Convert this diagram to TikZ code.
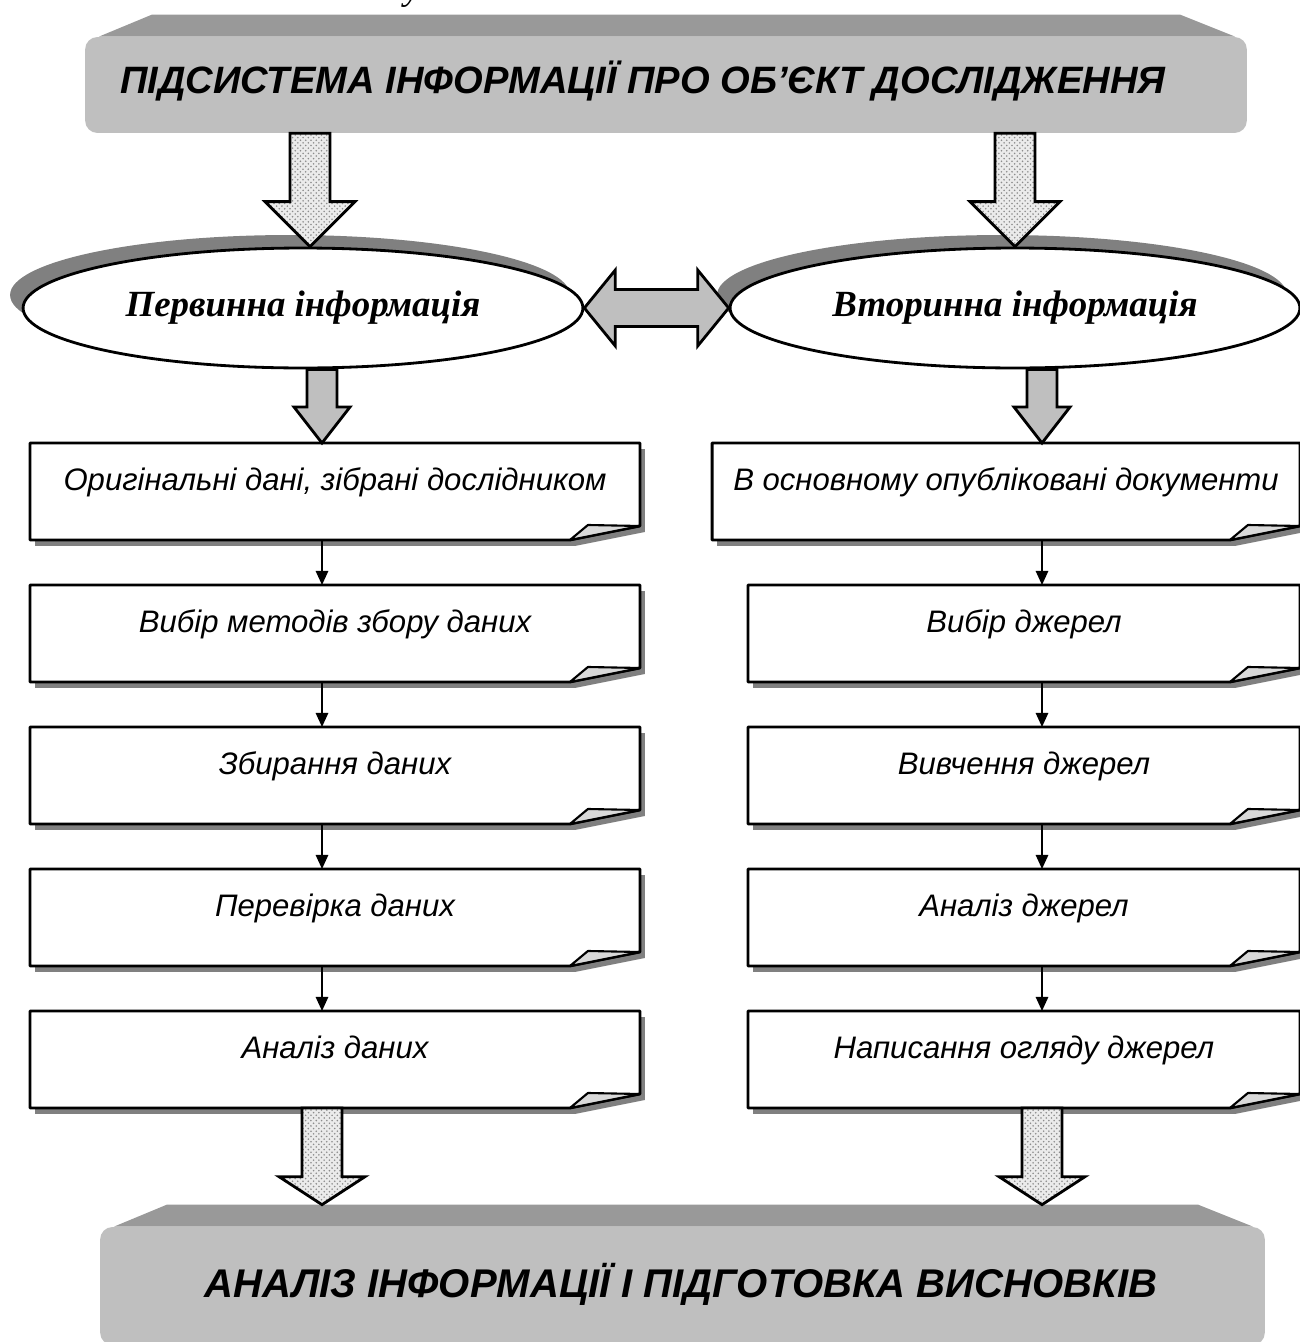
\documentclass[tikz,border=0pt]{standalone}
\usepackage{fontspec}
\setmainfont{Liberation Serif}
\setsansfont{Liberation Sans}
\usetikzlibrary{shapes.geometric,shadows,patterns,arrows.meta,calc}
\pgfdeclarelayer{back}
\pgfsetlayers{back,main}

\newcommand{\pxu}{0.569pt}
% wide arrow pointing down: style, from, to, half shaft, half head, head length
\newcommand{\blockdown}[6]{%
  \draw[#1] let \p1=(#2), \p2=(#3) in
    (\x1-#4*\pxu,\y1) -- (\x1+#4*\pxu,\y1) -- (\x1+#4*\pxu,\y2+#6*\pxu)
    -- (\x1+#5*\pxu,\y2+#6*\pxu) -- (\x2,\y2) -- (\x1-#5*\pxu,\y2+#6*\pxu)
    -- (\x1-#4*\pxu,\y2+#6*\pxu) -- cycle;}
% wide arrow with two heads: style, left tip, right tip, half shaft, half head, head length
\newcommand{\blockboth}[6]{%
  \draw[#1] let \p1=(#2), \p2=(#3) in
    (\x1,\y1) -- (\x1+#6*\pxu,\y1+#5*\pxu) -- (\x1+#6*\pxu,\y1+#4*\pxu)
    -- (\x2-#6*\pxu,\y1+#4*\pxu) -- (\x2-#6*\pxu,\y1+#5*\pxu) -- (\x2,\y1)
    -- (\x2-#6*\pxu,\y1-#5*\pxu) -- (\x2-#6*\pxu,\y1-#4*\pxu)
    -- (\x1+#6*\pxu,\y1-#4*\pxu) -- (\x1+#6*\pxu,\y1-#5*\pxu) -- cycle;}
% sheet of paper with a folded corner round node #1
\newcommand{\sheetoutline}[1]{%
  \begin{pgfonlayer}{back}
    \fill[black!50] ($(#1.north west)+(5,6)$) -- ($(#1.north east)+(5,6)$)
      -- ($(#1.south east)+(5,-8)$) -- ($(#1.south east)+(-65,6)$)
      -- ($(#1.south west)+(5,6)$) -- cycle;
    \fill[white] (#1.north west) -- (#1.north east) -- ($(#1.south east)+(0,-14)$)
      -- ($(#1.south east)+(-70,0)$) -- (#1.south west) -- cycle;
  \end{pgfonlayer}
  \draw[line width=1.6pt, line join=round] (#1.north west) -- (#1.north east)
    -- ($(#1.south east)+(0,-14)$) -- ($(#1.south east)+(-70,0)$)
    -- (#1.south west) -- cycle;
  \draw[line width=1.2pt, line join=round, fill=black!15] ($(#1.south east)+(-70,0)$)
    -- ($(#1.south east)+(-52,-15)$) -- ($(#1.south east)+(0,-14)$) -- cycle;}

\tikzset{
  banner/.style={fill=black!25, rounded corners=7pt, inner sep=0pt, minimum height=96*\pxu},
  bannertext/.style={inner sep=0pt, font=\sffamily\bfseries\itshape\fontsize{#1}{26}\selectfont},
  bannerlid/.style={fill=black!40},
  oval/.style={ellipse, draw, line width=1.6pt, fill=white, inner sep=0pt,
    minimum height=120*\pxu, font=\bfseries\itshape\fontsize{21}{25}\selectfont,
    drop shadow={shadow xshift=-7.4pt, shadow yshift=7.4pt, fill=black!50, opacity=1}},
  sheet/.style={minimum height=97*\pxu, inner sep=0pt, outer sep=0pt,
    text height=13pt, text depth=14pt, font=\sffamily\itshape\fontsize{17.7}{21}\selectfont},
  dotarrow/.style={draw, line width=1.6pt, line join=miter, preaction={fill=black!8},
    pattern=crosshatch dots, pattern color=black!45},
  greyarrow/.style={draw, line width=1.6pt, line join=miter, fill=black!25},
  flow/.style={-{Triangle[length=8pt,width=7pt]}, line width=1.1pt}
}

\begin{document}
\begin{tikzpicture}[x=0.02cm, y=-0.02cm]
  \useasboundingbox (0,0) rectangle (1300,1342);
  \clip (0,0) rectangle (1300,1342);

  % x positions of the arrows
  \coordinate (aTL) at (310,0);
  \coordinate (aTR) at (1015,0);
  \coordinate (colL) at (322,0);
  \coordinate (colR) at (1042,0);

  % Top banner
  \node[banner, minimum width=1162*\pxu] (top) at (666,85) {};
  \fill[bannerlid] ($(top.north west)+(67,-22)$) -- ($(top.north east)+(-67,-22)$)
    -- ($(top.north east)+(-12,0)$) -- ($(top.north west)+(14,0)$) -- cycle;
  \node[bannertext=21.7] (toptext) at (643,81) {ПІДСИСТЕМА ІНФОРМАЦІЇ ПРО ОБ’ЄКТ ДОСЛІДЖЕННЯ};
  \node[font=\itshape\fontsize{21}{25}\selectfont, anchor=base west, inner sep=0pt] (cut) at (404,-1) {у};

  % Primary and secondary information
  \node[oval, minimum width=560*\pxu] (ellL) at (303,308) {Первинна інформація};
  \node[oval, minimum width=570*\pxu] (ellR) at (1015,308) {Вторинна інформація};
  \blockdown{dotarrow}{top.south -| aTL}{ellL.north -| aTL}{20}{45}{45}
  \blockdown{dotarrow}{top.south -| aTR}{ellR.north -| aTR}{20}{45}{45}
  \blockboth{greyarrow}{ellL.east}{ellR.west}{18.5}{38}{31}

  % Left column
  \foreach \i/\txt in {1/{Оригінальні дані, зібрані дослідником}, 2/{Вибір методів збору даних},
      3/{Збирання даних}, 4/{Перевірка даних}, 5/{Аналіз даних}}
    \node[sheet, minimum width=610*\pxu] (l\i) at (335,349.5+142*\i) {\txt};

  % Right column
  \node[sheet, minimum width=588*\pxu] (r1) at (1006,491.5) {В основному опубліковані документи};
  \foreach \i/\txt in {2/{Вибір джерел}, 3/{Вивчення джерел}, 4/{Аналіз джерел},
      5/{Написання огляду джерел}}
    \node[sheet, minimum width=552*\pxu] (r\i) at (1024,349.5+142*\i) {\txt};

  \foreach \i in {1,...,5} {
    \sheetoutline{l\i}
    \sheetoutline{r\i}
  }

  \blockdown{greyarrow}{ellL.south -| colL}{l1.north -| colL}{15}{28}{36}
  \blockdown{greyarrow}{ellR.south -| colR}{r1.north -| colR}{15}{28}{36}
  \foreach \i [count=\j from 2] in {1,...,4} {
    \draw[flow] (l\i.south -| colL) -- (l\j.north -| colL);
    \draw[flow] (r\i.south -| colR) -- (r\j.north -| colR);
  }

  % Bottom banner
  \node[banner, minimum width=1165*\pxu, minimum height=118*\pxu] (bot) at (682.5,1286) {};
  \fill[bannerlid] ($(bot.north west)+(67,-22)$) -- ($(bot.north east)+(-67,-22)$)
    -- ($(bot.north east)+(-12,0)$) -- ($(bot.north west)+(14,0)$) -- cycle;
  \node[bannertext=22.8] (bottext) at (681,1284) {АНАЛІЗ ІНФОРМАЦІЇ І ПІДГОТОВКА ВИСНОВКІВ};
  \coordinate (botlid) at ($(bot.north)+(0,-22)$);
  \blockdown{dotarrow}{l5.south -| colL}{botlid -| colL}{20}{43}{28}
  \blockdown{dotarrow}{r5.south -| colR}{botlid -| colR}{20}{43}{28}
\end{tikzpicture}
\end{document}
